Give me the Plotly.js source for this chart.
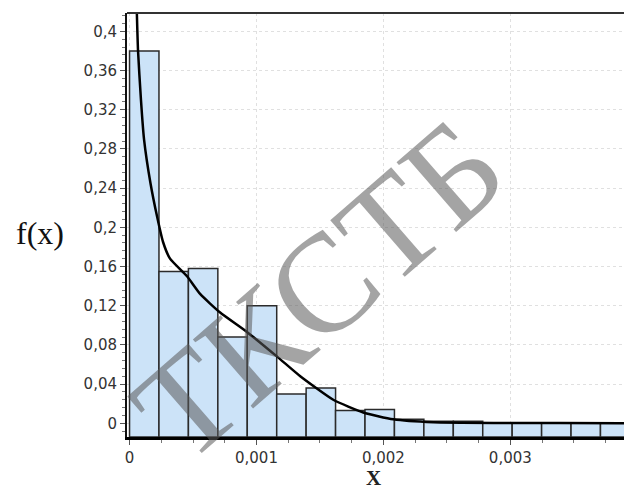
<!DOCTYPE html>
<html>
<head>
<meta charset="utf-8">
<script src="https://cdn.plot.ly/plotly-3.0.1.min.js"></script>
<style>
  html, body { margin: 0; padding: 0; overflow: hidden; background: #fff; }
  #chart { width: 700px; height: 489px; }
</style>
</head>
<body>
<div id="chart"></div>
<script>
// ---- data ----
const binWidth = 0.0002319;
const binHeights = [0.38, 0.155, 0.158, 0.088, 0.12, 0.030, 0.036, 0.013, 0.014,
                    0.004, 0.002, 0.002, 0.0006, 0.0006, 0.0006, 0.0006, 0.0006];
const curveX = [0.000051, 0.000067, 0.000090, 0.000114, 0.000165, 0.000217, 0.000264,
                0.000319, 0.000453, 0.000556, 0.000714, 0.000927, 0.001163, 0.001345,
                0.001605, 0.001842, 0.002078, 0.002394, 0.00292, 0.00387, 0.0044];
const curveY = [0.45, 0.38, 0.33, 0.29, 0.245, 0.211, 0.185, 0.168, 0.150, 0.132,
                0.113, 0.093, 0.068, 0.048, 0.024, 0.011, 0.004, 0.001, 0.0003, 0.0001, 0.0001];
const yTickVals = [0, 0.04, 0.08, 0.12, 0.16, 0.2, 0.24, 0.28, 0.32, 0.36, 0.4];
const xTickVals = [0, 0.001, 0.002, 0.003];
const yLabel = 'f(x)';
const xLabel = 'X';
const watermark = 'ТКСТБ';

// ---- layout constants ----
const Y_MIN = -0.014, Y_MAX = 0.4187;
const X_MIN = -0.00002, X_MAX = 0.0044;

const binCenters = binHeights.map((_, i) => (i + 0.5) * binWidth);

const bars = {
  type: 'bar',
  x: binCenters,
  y: binHeights.map(h => h - Y_MIN),
  base: Y_MIN,
  width: binWidth,
  marker: { color: '#cce3f8', line: { color: '#2b2b2b', width: 1.5 } },
  hoverinfo: 'skip'
};

const curve = {
  type: 'scatter',
  mode: 'lines',
  x: curveX,
  y: curveY,
  line: { color: '#000', width: 2.5, shape: 'spline', smoothing: 0.5 },
  hoverinfo: 'skip'
};

const tickFont = { family: 'DejaVu Sans', size: 15, color: '#333' };

const layout = {
  width: 700, height: 489,
  margin: { l: 127, r: 12, t: 13, b: 52 },
  paper_bgcolor: '#fff', plot_bgcolor: '#fff',
  separators: ', ',
  showlegend: false,
  bargap: 0,
  xaxis: {
    range: [X_MIN, X_MAX],
    tickvals: xTickVals,
    ticks: 'outside', ticklen: 5, tickcolor: '#555', tickwidth: 1,
    minor: { dtick: 0.00025, tick0: 0, ticks: 'outside', ticklen: 3, tickcolor: '#777', showgrid: false },
    showgrid: true, gridcolor: '#e0e0e0', griddash: 'dot', gridwidth: 1,
    zeroline: false,
    showline: true, linecolor: '#000', linewidth: 3,
    tickfont: tickFont
  },
  yaxis: {
    range: [Y_MIN, Y_MAX],
    tickvals: yTickVals,
    ticks: 'outside', ticklen: 5, tickcolor: '#555', tickwidth: 1,
    minor: { dtick: 0.008, tick0: 0, ticks: 'outside', ticklen: 3, tickcolor: '#777', showgrid: false },
    showgrid: true, gridcolor: '#e0e0e0', griddash: 'dot', gridwidth: 1,
    zeroline: false,
    showline: true, linecolor: '#111', linewidth: 2,
    tickfont: tickFont
  },
  shapes: [
    { type: 'line', xref: 'paper', yref: 'paper', x0: 0, x1: 1, y0: 1, y1: 1,
      line: { color: '#333', width: 2 } }
  ],
  annotations: [
    { text: yLabel, xref: 'paper', yref: 'paper', x: -0.155, y: 0.48, xanchor: 'center', yanchor: 'middle',
      showarrow: false, font: { family: 'Liberation Serif', size: 32, color: '#111' } },
    { text: '<b>' + xLabel + '</b>', xref: 'x', yref: 'paper', x: 0.00192, y: -0.097, xanchor: 'center', yanchor: 'middle',
      showarrow: false, font: { family: 'Liberation Serif', size: 21, color: '#222' } },
    { text: watermark, xref: 'paper', yref: 'paper', x: 0.342, y: 0.35, xanchor: 'center', yanchor: 'middle',
      showarrow: false, textangle: -41,
      font: { family: 'Liberation Serif', size: 140, color: 'rgba(90,90,90,0.55)' } }
  ]
};

Plotly.newPlot('chart', [bars, curve], layout, { displayModeBar: false, staticPlot: true });
</script>
</body>
</html>
